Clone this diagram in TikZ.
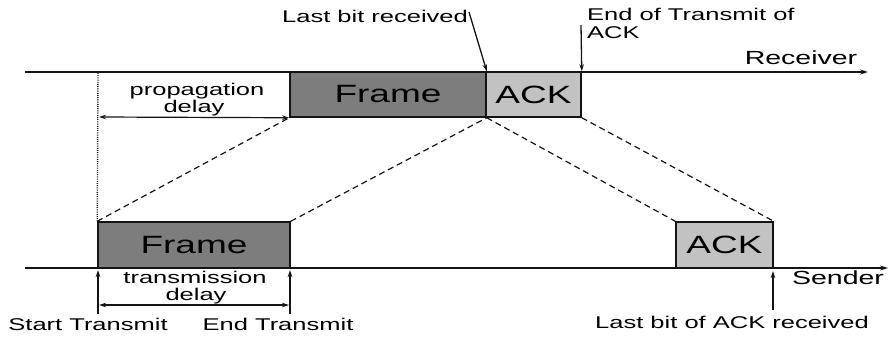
\documentclass[tikz,border=0pt]{standalone}
\usepackage{fontspec}
\usetikzlibrary{arrows.meta}
\newfontfamily\labfam[FakeStretch=1.5]{Liberation Sans}
\newfontfamily\boxfam[FakeStretch=1.48]{Liberation Sans}
\newfontfamily\axfam[FakeStretch=1.5]{Liberation Sans}
\definecolor{frameC}{RGB}{125,125,125}
\definecolor{ackC}{RGB}{194,194,194}
\definecolor{lineC}{RGB}{20,20,20}
\begin{document}
\begin{tikzpicture}[x=1pt,y=-1pt,
  lbl/.style={font=\labfam\fontsize{17}{17}\selectfont, inner sep=0pt, anchor=base},
  boxtext/.style={font=\boxfam\fontsize{25}{25}\selectfont},
  axtext/.style={font=\axfam\fontsize{19}{19}\selectfont, inner sep=0pt, anchor=base},
  framebox/.style={draw=lineC, line width=1.5pt, fill=frameC, inner sep=0pt, boxtext},
  ackbox/.style={draw=lineC, line width=1.5pt, fill=ackC, inner sep=0pt, boxtext},
  axis/.style={draw=lineC, line width=1.3pt, -{Stealth[length=8pt,width=5pt]}},
  conn/.style={draw=lineC, line width=1.2pt, dash pattern=on 6pt off 4pt},
  pointer/.style={draw=lineC, line width=1.3pt, -{Stealth[length=7pt,width=4.5pt]}},
  span/.style={draw=lineC, line width=1.2pt, {Stealth[length=7pt,width=4.5pt]}-{Stealth[length=7pt,width=4.5pt]}},
  guide/.style={draw=lineC, line width=1.4pt, dash pattern=on 1pt off 1.2pt}
]
\useasboundingbox (0,0) rectangle (891,337);

% axes
\coordinate (r0) at (25,72);
\coordinate (r1) at (868,72);
\coordinate (s0) at (25,268);
\coordinate (s1) at (888,268);
\draw[axis] (r0) -- (r1);
\draw[axis] (s0) -- (s1);

% boxes
\node[framebox, minimum width=196pt, minimum height=45pt] (rf) at (388,94.5) {Frame};
\node[ackbox, minimum width=95pt, minimum height=45pt] (ra) at (533.5,94.5) {ACK};
\node[framebox, minimum width=192pt, minimum height=46pt] (sf) at (194,245) {Frame};
\node[ackbox, minimum width=97pt, minimum height=46pt] (sa) at (724.5,245) {ACK};

% dashed propagation lines
\draw[conn] (sf.north west) -- (rf.south west);
\draw[conn] (sf.north east) -- (rf.south east);
\draw[conn] (rf.south east) -- (sa.north west);
\draw[conn] (ra.south east) -- (sa.north east);

% dotted guide
\coordinate (g0) at (98,73);
\draw[guide] (g0) -- (sf.north west);

% axis labels
\node[axtext] (recv) at (801,65) {Receiver};
\node[axtext] (send) at (838,284) {Sender};

% propagation delay
\coordinate (pd0) at (99,117);
\draw[span] (pd0) -- (rf.south west);
\node[lbl] (pdl1) at (197,95) {propagation};
\node[lbl] (pdl2) at (194,112) {delay};

% transmission delay
\coordinate (td0) at (99,305);
\coordinate (td1) at (289,305);
\draw[span] (td0) -- (td1);
\node[lbl] (tdl1) at (195,283) {transmission};
\node[lbl] (tdl2) at (196,300) {delay};

% top labels
\node[lbl] (lbr) at (375,23) {Last bit received};
\coordinate (lbrs) at (469,12);
\draw[pointer] (lbrs) -- (rf.north east);
\node[lbl, anchor=base west] (eta1) at (587,21) {End of Transmit of};
\node[lbl, anchor=base west] (eta2) at (587,39) {ACK};
\coordinate (etas) at (581,25);
\draw[pointer] (etas) -- (ra.north east);

% bottom labels
\node[lbl] (st) at (88,330) {Start Transmit};
\node[lbl] (et) at (278,330) {End Transmit};
\node[lbl] (lba) at (732,328) {Last bit of ACK received};
\coordinate (sta) at (98,314);
\coordinate (stt) at (98,270);
\draw[pointer] (sta) -- (stt);
\coordinate (eta) at (290,314);
\coordinate (ett) at (290,270);
\draw[pointer] (eta) -- (ett);
\coordinate (lbaa) at (773,310);
\coordinate (lbat) at (773,271);
\draw[pointer] (lbaa) -- (lbat);
\end{tikzpicture}
\end{document}
